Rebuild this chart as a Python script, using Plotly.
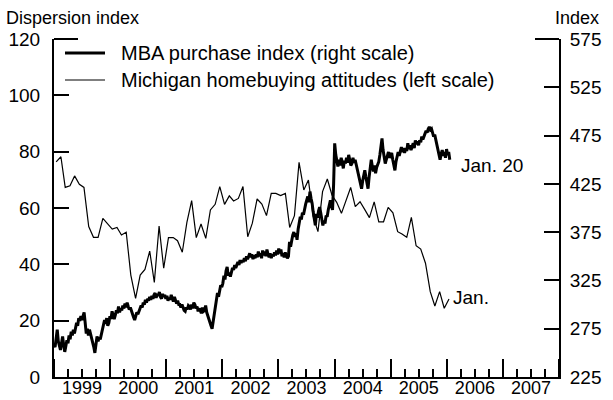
import pandas as pd
import plotly.graph_objects as go

# ---- data ----
# Michigan homebuying attitudes, monthly Jan 1999 - Jan 2006 (left scale, dispersion index)
michigan_start = "1999-01-01"
michigan_values = [
    76.4, 78.2, 67.3, 67.9, 71.4, 68.4, 67.3, 53.4, 49.6, 49.6,
    56.3, 54.3, 52.5, 53.1, 50.4, 51.4, 36.2, 27.9, 36.2, 38.2,
    44.7, 33.6, 53.6, 38.6, 49.5, 49.5, 48.4, 44.3, 54.9, 62.6,
    49.5, 54.3, 49.2, 59.3, 61.3, 67.6, 61.3, 64.3, 62.5, 63.4,
    67.6, 49.8, 54.6, 63.2, 61.4, 57.3, 65.2, 65.2, 64.4, 65.2,
    53.1, 57.3, 76.2, 66.4, 69.9, 57.0, 51.6, 65.8, 70.3, 64.6,
    62.0, 58.1, 62.5, 67.3, 60.5, 62.2, 59.5, 56.6, 62.2, 55.1,
    55.1, 60.2, 58.3, 51.6, 50.8, 49.6, 56.7, 46.6, 45.4, 40.4,
    30.3, 25.2, 30.3, 24.4, 27.7,
]

# MBA purchase index, weekly Jan 1, 1999 - Jan 20, 2006 (right scale, index)
mba_start = "1999-01-01"
mba_end = "2006-01-20"
mba_values = [
    258, 256, 265, 274, 262, 258, 253, 260, 267, 258, 251, 257, 263, 260, 268, 264, 272, 268, 274, 270, 277,
    281, 278, 286, 283, 288, 284, 290, 292, 281, 270, 275, 268, 274, 270, 265, 260, 256, 250, 258, 267,
    262, 266, 264, 270, 275, 280, 284, 280, 286, 278, 281, 288, 285, 293, 289, 285, 289, 294, 291, 298,
    292, 296, 294, 299, 296, 301, 297, 302, 298, 295, 297, 293, 290, 287, 284, 289, 292, 290, 294, 296,
    299, 297, 302, 300, 305, 302, 306, 304, 308, 305, 309, 306, 310, 312, 307, 311, 309, 313, 308, 306,
    311, 308, 310, 306, 309, 304, 307, 305, 310, 306, 303, 308, 305, 301, 304, 300, 300, 297, 300, 296,
    294, 293, 297, 295, 299, 298, 295, 300, 296, 302, 300, 296, 298, 293, 296, 294, 291, 297, 293, 294,
    299, 292, 288, 284, 281, 278, 275, 283, 290, 296, 305, 312, 308, 316, 320, 318, 322, 330, 326, 335,
    339, 330, 333, 329, 335, 338, 336, 341, 338, 342, 344, 341, 346, 343, 346, 344, 348, 345, 350, 347,
    351, 353, 349, 352, 347, 351, 348, 352, 349, 355, 350, 353, 348, 356, 351, 355, 350, 357, 352, 349,
    353, 348, 352, 350, 354, 351, 356, 352, 358, 353, 357, 350, 353, 349, 354, 351, 348, 350, 365, 360,
    368, 372, 375, 370, 374, 367, 378, 385, 391, 388, 395, 393, 400, 404, 408, 412, 406, 417, 410, 405,
    396, 389, 382, 394, 390, 397, 401, 395, 388, 382, 387, 384, 392, 391, 398, 403, 408, 402, 398, 425,
    467, 455, 446, 443, 450, 444, 452, 448, 441, 449, 446, 452, 447, 455, 450, 444, 446, 452, 447, 450,
    445, 440, 438, 430, 426, 420, 428, 434, 439, 432, 427, 420, 432, 441, 450, 443, 438, 444, 436, 442,
    446, 448, 455, 462, 472, 460, 452, 446, 450, 455, 458, 452, 455, 457, 450, 444, 439, 448, 452, 458,
    454, 460, 463, 458, 462, 457, 462, 459, 467, 461, 465, 460, 463, 467, 462, 470, 466, 469, 465, 470,
    468, 474, 471, 475, 477, 480, 478, 482, 484, 481, 482, 478, 474, 476, 470, 466, 460, 455, 450, 456,
    460, 454, 458, 452, 461, 455, 458, 450,
]

left_ticks = [0, 20, 40, 60, 80, 100, 120]
right_ticks = [225, 275, 325, 375, 425, 475, 525, 575]

mba_name = "MBA purchase index (right scale)"
mich_name = "Michigan homebuying attitudes (left scale)"

# ---- build ----
mich_dates = pd.date_range(michigan_start, periods=len(michigan_values), freq="MS") + pd.Timedelta(days=14)
mba_dates = pd.date_range(mba_start, mba_end, freq="7D")
assert len(mba_dates) == len(mba_values)

FONT = "Liberation Sans, Arial, Helvetica, sans-serif"
W, H = 613, 400
ML, MR, MT, MB = 54, 54, 39, 23
PW, PH = W - ML - MR, H - MT - MB


def px(xpix):
    return (xpix - ML) / PW


def py(ypix):
    return (H - MB - ypix) / PH


fig = go.Figure()
fig.add_trace(go.Scatter(x=mich_dates, y=michigan_values, mode="lines", name=mich_name,
                         line=dict(color="black", width=1.2), yaxis="y"))
fig.add_trace(go.Scatter(x=mba_dates, y=mba_values, mode="lines", name=mba_name,
                         line=dict(color="black", width=3), yaxis="y2"))

axis_common = dict(showgrid=False, zeroline=False, showline=True, linewidth=2, linecolor="black",
                   ticks="inside", tickwidth=2, tickcolor="black", automargin=False,
                   fixedrange=True)

fig.update_layout(
    width=W, height=H, autosize=False,
    margin=dict(l=ML, r=MR, t=MT, b=MB, autoexpand=False),
    paper_bgcolor="white", plot_bgcolor="white",
    showlegend=False,
    font=dict(family=FONT, size=18, color="black"),
    xaxis=dict(type="date", range=["1999-01-01", "2008-01-01"], tick0="1999-01-01", dtick="M12",
               tickformat="%Y", ticklabelmode="period", ticklen=18, ticklabelstandoff=-7,
               tickfont=dict(family=FONT, size=18, color="black"),
               minor=dict(dtick="M3", tick0="1999-01-01", ticks="inside", ticklen=8, tickwidth=2,
                          tickcolor="black", showgrid=False),
               **axis_common),
    yaxis=dict(range=[left_ticks[0], left_ticks[-1]], tickvals=left_ticks, ticklen=15,
               ticklabelstandoff=8, tickfont=dict(family=FONT, size=19, color="black"),
               **axis_common),
    yaxis2=dict(range=[right_ticks[0], right_ticks[-1]], tickvals=right_ticks, ticklen=15,
                side="right", overlaying="y", ticklabelstandoff=5,
                tickfont=dict(family=FONT, size=19, color="black"), **axis_common),
)

# caps at top of both vertical axes
cap = 24 / PW
fig.add_shape(type="line", xref="paper", yref="paper", x0=0, x1=cap, y0=1, y1=1,
              line=dict(color="black", width=2))
fig.add_shape(type="line", xref="paper", yref="paper", x0=1 - cap, x1=1, y0=1, y1=1,
              line=dict(color="black", width=2))

# legend (drawn manually)
fig.add_shape(type="line", xref="paper", yref="paper", x0=px(65), x1=px(105), y0=py(53), y1=py(53),
              line=dict(color="black", width=3))
fig.add_shape(type="line", xref="paper", yref="paper", x0=px(65), x1=px(105), y0=py(80), y1=py(80),
              line=dict(color="black", width=1.2))


def ann(size):
    return dict(xref="paper", yref="paper", showarrow=False,
                font=dict(family=FONT, size=size, color="black"))


fig.add_annotation(text=mba_name, x=px(119), y=py(53), xanchor="left", yanchor="middle", **ann(20))
fig.add_annotation(text=mich_name, x=px(119), y=py(80), xanchor="left", yanchor="middle", **ann(20))
fig.add_annotation(text="Dispersion index", x=px(4), y=py(18), xanchor="left", yanchor="middle", **ann(18))
fig.add_annotation(text="Index", x=px(601), y=py(18), xanchor="right", yanchor="middle", **ann(18))
fig.add_annotation(text="Jan. 20", x=px(459), y=py(165), xanchor="left", yanchor="middle", **ann(19))
fig.add_annotation(text="Jan.", x=px(451), y=py(297), xanchor="left", yanchor="middle", **ann(19))

post = (
    "document.documentElement.style.margin='0';"
    "document.documentElement.style.overflow='hidden';"
    "document.body.style.margin='0';"
    "document.body.style.padding='0';"
    "document.body.style.overflow='hidden';"
    "var gd=document.getElementById('{plot_id}');"
    "Plotly.relayout(gd,{width:%d,height:%d});" % (W, H)
)
fig.write_html("out.html", config={"responsive": False, "displayModeBar": False}, post_script=post)
